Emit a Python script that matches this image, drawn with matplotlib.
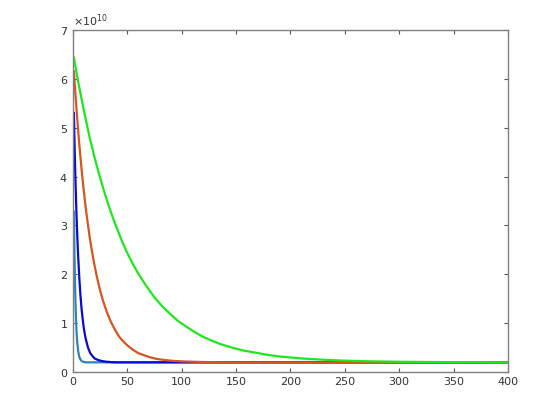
import matplotlib
matplotlib.use("Agg")
import matplotlib.pyplot as plt
from matplotlib.ticker import ScalarFormatter

# values, y in units of 1e10
teal_x = [1, 1.5, 2, 2.5, 3, 3.5, 4, 5, 6, 7, 8, 9, 10, 12, 400]
teal_y = [3.28, 2.5, 1.85, 1.4, 1.05, 0.8, 0.62, 0.42, 0.31, 0.26, 0.23, 0.215,
          0.21, 0.2, 0.2]

blue_x = [1, 1.5, 2, 2.5, 3, 3.5, 4, 4.5, 5, 6, 7, 8, 9, 10, 11, 12, 14, 16, 18,
          20, 23, 26, 30, 35, 40, 400]
blue_y = [5.3, 4.78, 4.31, 3.88, 3.5, 3.16, 2.86, 2.58, 2.34, 1.92, 1.58, 1.31,
          1.1, 0.92, 0.78, 0.67, 0.5, 0.39, 0.33, 0.28, 0.25, 0.23, 0.215, 0.205,
          0.2, 0.2]

orange_x = [1, 2, 3, 4, 5, 6, 7, 8, 9, 10, 11, 12, 13, 14, 16, 18, 20, 22, 25,
            27.5, 30, 32.5, 35, 37.5, 40, 42.5, 45, 50, 55, 60, 65, 70, 75, 80,
            90, 100, 120, 150, 400]
orange_y = [6.15, 5.82, 5.5, 5.2, 4.92, 4.65, 4.4, 4.16, 3.94, 3.73, 3.53, 3.34,
            3.17, 3.0, 2.69, 2.42, 2.18, 1.96, 1.68, 1.48, 1.31, 1.16, 1.03, 0.92,
            0.82, 0.73, 0.66, 0.55, 0.46, 0.39, 0.35, 0.31, 0.28, 0.26, 0.234,
            0.22, 0.206, 0.2, 0.2]

green_x = [1, 5, 10, 15, 20, 25, 30, 35, 40, 45, 50, 55, 60, 67, 75, 82, 90, 97,
           105, 112, 120, 127, 135, 142, 150, 157, 165, 180, 190, 200, 212, 225,
           237, 250, 262, 275, 287, 300, 325, 350, 375, 400]
green_y = [6.43, 5.93, 5.37, 4.85, 4.39, 3.98, 3.61, 3.27, 2.97, 2.69, 2.44, 2.22,
           2.02, 1.78, 1.53, 1.35, 1.18, 1.04, 0.92, 0.82, 0.72, 0.65, 0.58, 0.53,
           0.48, 0.44, 0.41, 0.35, 0.32, 0.30, 0.277, 0.26, 0.246, 0.235, 0.227,
           0.22, 0.216, 0.212, 0.207, 0.204, 0.203, 0.201]

x_ticks = [0, 50, 100, 150, 200, 250, 300, 350, 400]
y_ticks = [0, 1, 2, 3, 4, 5, 6, 7]

scale = 1e10

fig = plt.figure(figsize=(5.6, 4.2), dpi=100)
ax = fig.add_axes([0.13, 0.114, 0.777, 0.815])

ax.plot(teal_x, [v * scale for v in teal_y], color='#2a86b8', lw=1.6)
ax.plot(blue_x, [v * scale for v in blue_y], color='#0a0ad2', lw=1.6)
ax.plot(orange_x, [v * scale for v in orange_y], color='#d9541e', lw=1.6)
ax.plot(green_x, [v * scale for v in green_y], color='#1de81d', lw=1.6)

ax.set_xlim(0, 400)
ax.set_ylim(0, 7 * scale)
ax.set_xticks(x_ticks)
ax.set_yticks([t * scale for t in y_ticks])

fmt = ScalarFormatter(useMathText=True)
fmt.set_powerlimits((0, 0))
ax.yaxis.set_major_formatter(fmt)
ax.yaxis.get_offset_text().set_fontsize(8)
ax.yaxis.get_offset_text().set_color('#333333')

for s in ax.spines.values():
    s.set_color('#808080')
    s.set_linewidth(1.0)
ax.tick_params(direction='in', top=True, right=True, labelsize=8,
               colors='#333333', length=3, width=0.8)
ax.tick_params(color='#555555')

fig.savefig('out.png', dpi=100, facecolor='white')
